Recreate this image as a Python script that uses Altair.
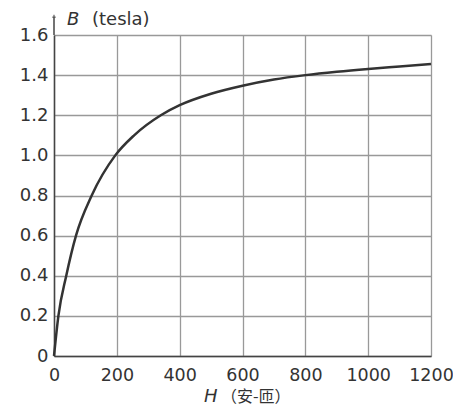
import altair as alt
import pandas as pd

H = [0, 14, 39, 70, 120, 195, 255, 340, 400, 500, 600, 700, 800, 900, 1000, 1100, 1200]
B = [0, 0.2, 0.4, 0.6, 0.8, 1.0, 1.1, 1.2, 1.25, 1.307, 1.347, 1.378, 1.40, 1.417, 1.431, 1.443, 1.455]

df = pd.DataFrame({"H": H, "B": B})

W, HT = 377, 321
FONT = "DejaVu Sans"

xs = alt.Scale(domain=[0, 1200], nice=False)
ys = alt.Scale(domain=[0, 1.6], nice=False)

common = dict(grid=True, ticks=False, domainColor="#444", domainWidth=1.5,
              labelColor="#333", labelFont=FONT, gridColor="#999",
              gridWidth=1.3, labelFlush=False, title=None)

line = alt.Chart(df).mark_line(color="#333333", strokeWidth=2.5, interpolate="monotone").encode(
    x=alt.X("H:Q", scale=xs, axis=alt.Axis(values=[0, 200, 400, 600, 800, 1000, 1200], format="d",
                                           labelPadding=10, labelFontSize=17.5, **common)),
    y=alt.Y("B:Q", scale=ys, axis=alt.Axis(values=[0, 0.2, 0.4, 0.6, 0.8, 1.0, 1.2, 1.4, 1.6],
                                           labelExpr="datum.value == 0 ? '0' : format(datum.value, '.1f')",
                                           labelPadding=6, labelFontSize=18, **common)),
)

axis_ext = alt.Chart(pd.DataFrame({"v": [0]})).mark_rule(color="#444", strokeWidth=1.5).encode(
    x=alt.value(0), y=alt.value(-18), y2=alt.value(0))
arrow = alt.Chart(pd.DataFrame({"v": [0]})).mark_point(shape="triangle-up", filled=True, color="#444", size=18).encode(
    x=alt.value(0), y=alt.value(-19))

tB = alt.Chart(pd.DataFrame({"t": ["B"]})).mark_text(font=FONT, fontSize=18, fontStyle="italic", color="#333",
                                                      align="left", baseline="middle").encode(
    x=alt.value(13), y=alt.value(-15), text="t:N")
tT = alt.Chart(pd.DataFrame({"t": ["(tesla)"]})).mark_text(font=FONT, fontSize=18, color="#333",
                                                           align="left", baseline="middle").encode(
    x=alt.value(38), y=alt.value(-15), text="t:N")
tH = alt.Chart(pd.DataFrame({"t": ["H"]})).mark_text(font=FONT, fontSize=18, fontStyle="italic", color="#333",
                                                      align="left", baseline="middle").encode(
    x=alt.value(150), y=alt.value(HT + 41), text="t:N")
tU = alt.Chart(pd.DataFrame({"t": ["（安-匝）"]})).mark_text(font="Noto Sans CJK SC", fontSize=16, color="#333",
                                                             align="left", baseline="middle").encode(
    x=alt.value(167), y=alt.value(HT + 41), text="t:N")

chart = alt.layer(line, axis_ext, arrow, tB, tT, tH, tU).properties(
    width=W, height=HT,
    autosize=alt.AutoSizeParams(type="none"),
    padding={"left": 46, "top": 27, "right": 22, "bottom": 50},
).configure_view(stroke="#999", strokeWidth=1.3).configure(background="white")

chart.save("out.html", embed_options={"renderer": "svg", "actions": False})
